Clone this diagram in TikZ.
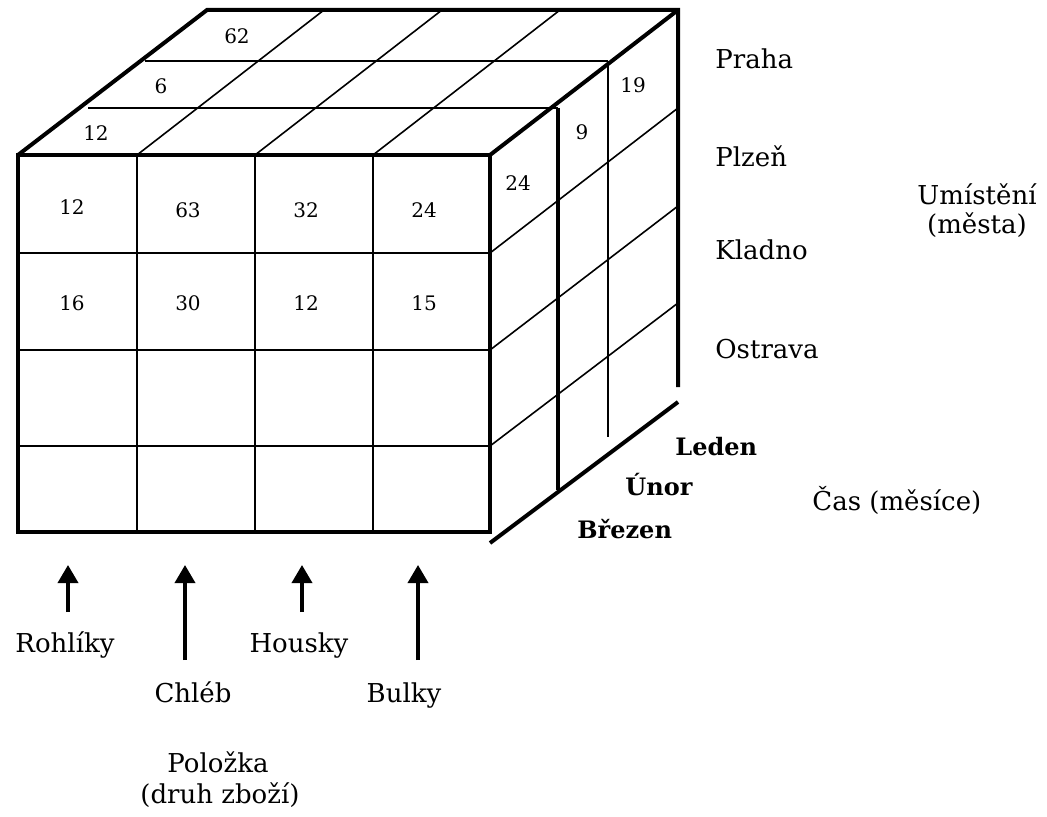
\documentclass[tikz,border=0pt]{standalone}
\usepackage{fontspec}
\setmainfont{DejaVu Serif}
\usetikzlibrary{arrows.meta}

\begin{document}
\begin{tikzpicture}[
  x=0.5pt, y=-0.5pt,
  heavy/.style={draw=black,line width=2pt},
  grid/.style={draw=black,line width=1pt},
  fine/.style={draw=black,line width=0.8pt},
  cell/.style={font=\fontsize{10}{12}\selectfont,inner sep=0pt},
  city/.style={font=\fontsize{13}{15}\selectfont,anchor=base west,inner sep=0pt},
  month/.style={font=\fontsize{12}{14}\selectfont\bfseries,anchor=base west,inner sep=0pt},
  item/.style={font=\fontsize{13}{15}\selectfont,anchor=base,inner sep=0pt},
  itemarrow/.style={line width=1.8pt,-{Triangle[length=9pt,width=10pt]}}
]
\useasboundingbox (0,0) rectangle (1047,817);

% front face
\draw[grid] (137,155) -- (137,532) (255,155) -- (255,532) (373,155) -- (373,532);
\draw[grid] (18,253) -- (490,253) (18,350) -- (490,350) (18,446) -- (490,446);
\draw[heavy] (18,155) rectangle (490,532);

% top face
\draw[grid] (88,108) -- (558,108) (145,61) -- (608,61);
\draw[fine] (137,155) -- (324,10) (255,155) -- (442,10) (373,155) -- (560,10);
\draw[heavy] (18,155) -- (207,10) -- (678,10) -- (678,387);
\draw[heavy] (490,155) -- (678,10);

% side face
\draw[fine] (490,253) -- (678,108) (490,350) -- (678,206) (490,446) -- (678,303);
\draw[heavy] (558,108) -- (558,490);
\draw[grid] (608,61) -- (608,437);
\draw[heavy] (490,543) -- (678,402);

% values
\node[cell] (t62) at (237,36) {62};
\node[cell] (t6) at (161,86) {6};
\node[cell] (t12) at (96,133) {12};
\node[cell] (s19) at (633,85) {19};
\node[cell] (s9) at (582,132) {9};
\node[cell] (s24) at (518,183) {24};
\node[cell] (f12) at (72,207) {12};
\node[cell] (f63) at (188,210) {63};
\node[cell] (f32) at (306,210) {32};
\node[cell] (f24) at (424,210) {24};
\node[cell] (f16) at (72,303) {16};
\node[cell] (f30) at (188,303) {30};
\node[cell] (f12b) at (306,303) {12};
\node[cell] (f15) at (424,303) {15};

% cities
\node[city] (praha) at (715,69) {Praha};
\node[city] (plzen) at (715,167) {Plzeň};
\node[city] (kladno) at (715,260) {Kladno};
\node[city] (ostrava) at (715,358) {Ostrava};
\node[item] (umisteni) at (977,205) {Umístění};
\node[item] (mesta) at (977,234) {(města)};

% months
\node[month] (leden) at (675,455) {Leden};
\node[month] (unor) at (625,495) {Únor};
\node[month] (brezen) at (577,538) {Březen};
\node[city] (cas) at (812,510) {Čas (měsíce)};

% items
\coordinate (tipR) at (68,565);
\coordinate (tailR) at (68,612);
\coordinate (tipC) at (185,565);
\coordinate (tailC) at (185,660);
\coordinate (tipH) at (302,565);
\coordinate (tailH) at (302,612);
\coordinate (tipB) at (418,565);
\coordinate (tailB) at (418,660);
\draw[itemarrow] (tailR) -- (tipR);
\draw[itemarrow] (tailC) -- (tipC);
\draw[itemarrow] (tailH) -- (tipH);
\draw[itemarrow] (tailB) -- (tipB);

\node[item] (rohliky) at (65,652) {Rohlíky};
\node[item] (chleb) at (193,702) {Chléb};
\node[item] (housky) at (299,652) {Housky};
\node[item] (bulky) at (404,702) {Bulky};
\node[item] (polozka) at (218,772) {Položka};
\node[item] (druh) at (220,803) {(druh zboží)};
\end{tikzpicture}
\end{document}
